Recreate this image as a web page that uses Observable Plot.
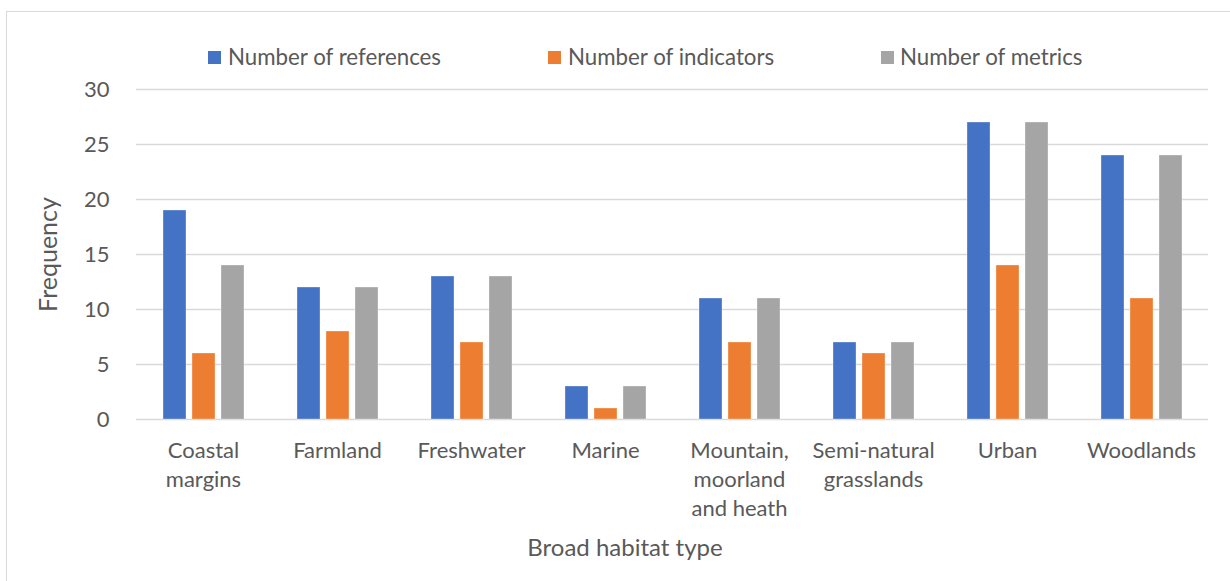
<!DOCTYPE html>
<html><head><meta charset="utf-8">
<script src="https://cdn.jsdelivr.net/npm/d3@7"></script>
<script src="https://cdn.jsdelivr.net/npm/@observablehq/plot@0.6"></script>
<style>
body{margin:0;overflow:hidden;background:#fff;font-family:Lato,sans-serif;color:#595959;}
#wrap{position:relative;width:1230px;height:581px;overflow:hidden;}
#frame{position:absolute;left:6px;top:11px;width:1260px;height:620px;border:1px solid #d9d9d9;box-sizing:border-box;}
#chart{position:absolute;left:0;top:0;}
.lg{position:absolute;top:44px;font-size:22.3px;line-height:26px;white-space:nowrap;}
.sw{position:absolute;top:51px;width:13px;height:13px;}
#xlabel{position:absolute;left:625px;top:532px;transform:translateX(-50%);font-size:24px;line-height:30px;white-space:nowrap;}
</style></head>
<body><div id="wrap"><div id="frame"></div><div id="chart"></div><div id="legend"></div><div id="xlabel">Broad habitat type</div></div>
<script>
const categories = ["Coastal margins","Farmland","Freshwater","Marine","Mountain, moorland and heath","Semi-natural grasslands","Urban","Woodlands"];
const categoryLabels = ["Coastal\nmargins","Farmland","Freshwater","Marine","Mountain,\nmoorland\nand heath","Semi-natural\ngrasslands","Urban","Woodlands"];
const series = ["Number of references","Number of indicators","Number of metrics"];
const references = [19,12,13,3,11,7,27,24];
const indicators = [6,8,7,1,7,6,14,11];
const metrics = [14,12,13,3,11,7,27,24];
const yTicks = [0,5,10,15,20,25,30];
const colors = ["#4472C4","#ED7D31","#A5A5A5"];

const seriesValues = [references, indicators, metrics];
const data = [];
categories.forEach((c,i)=>series.forEach((s,j)=>data.push({cat:c, series:s, value:seriesValues[j][i]})));
const labelOf = new Map(categories.map((c,i)=>[c,categoryLabels[i]]));

const chart = Plot.plot({
  width:1230, height:581,
  marginLeft:133, marginRight:20, marginTop:89, marginBottom:162,
  style:{fontFamily:"Lato, sans-serif", fontSize:"22px", color:"#595959", background:"transparent"},
  fx:{domain:categories, padding:0},
  x:{domain:series, paddingInner:0.22, paddingOuter:0.89, axis:null},
  y:{domain:[0,30]},
  color:{domain:series, range:colors},
  marks:[
    Plot.gridY(yTicks,{stroke:"#d9d9d9", strokeOpacity:1, strokeWidth:1.3}),
    Plot.barY(data,{fx:"cat", x:"series", y:"value", fill:"series", stroke:"white", strokeOpacity:0.4, strokeWidth:0.8}),
    Plot.axisY(yTicks,{tickSize:0, tickPadding:27, fontSize:22, fill:"#595959", label:null}),
    Plot.axisY({tickSize:0, ticks:[], fontSize:25, fill:"#595959", label:"Frequency", labelAnchor:"center", labelArrow:"none", labelOffset:97}),
    Plot.axisFx({anchor:"bottom", tickSize:0, tickPadding:18, lineHeight:1.32, fontSize:22, fill:"#595959", label:null, tickFormat:d=>labelOf.get(d)})
  ]
});
document.getElementById("chart").appendChild(chart);

const legend = document.getElementById("legend");
const swLeft = [208,548,881], txLeft = [228,568,900];
series.forEach((s,i)=>{
  const sw = document.createElement("div"); sw.className="sw"; sw.style.left=swLeft[i]+"px"; sw.style.background=colors[i]; legend.appendChild(sw);
  const t = document.createElement("div"); t.className="lg"; t.style.left=txLeft[i]+"px"; t.textContent=s; legend.appendChild(t);
});
</script></body></html>
